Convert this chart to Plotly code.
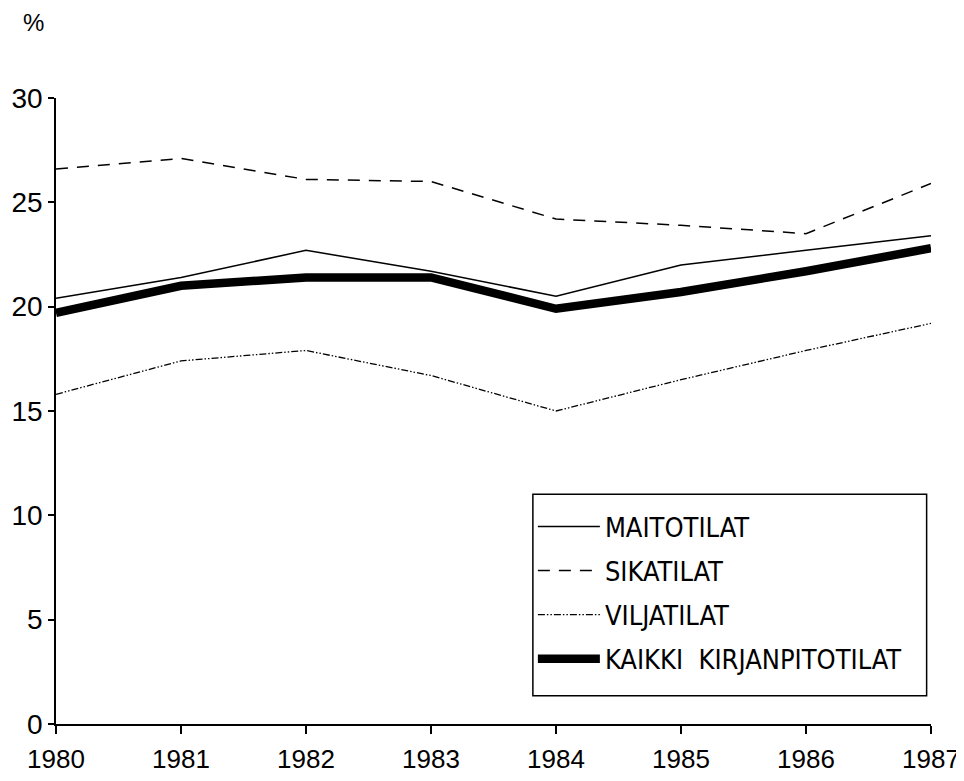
import plotly.graph_objects as go

years = [1980, 1981, 1982, 1983, 1984, 1985, 1986, 1987]
maitotilat = [20.4, 21.4, 22.7, 21.7, 20.5, 22.0, 22.7, 23.4]
sikatilat = [26.6, 27.1, 26.1, 26.0, 24.2, 23.9, 23.5, 25.9]
viljatilat = [15.8, 17.4, 17.9, 16.7, 15.0, 16.5, 17.9, 19.2]
kaikki = [19.7, 21.0, 21.4, 21.4, 19.9, 20.7, 21.7, 22.8]
names = ["MAITOTILAT", "SIKATILAT", "VILJATILAT", "KAIKKI  KIRJANPITOTILAT"]
y_ticks = [0, 5, 10, 15, 20, 25, 30]

FONT = "Liberation Sans, Arial, sans-serif"
LFONT = "DejaVu Sans Condensed, Liberation Sans Narrow, Arial Narrow, sans-serif"

fig = go.Figure()
styles = [
    dict(width=1.5, dash="solid"),
    dict(width=1.5, dash="12px,9px"),
    dict(width=1.3, dash="7px,2px,1.5px,2px,1.5px,2px"),
    dict(width=8.5, dash="solid"),
]
for i, (nm, vals) in enumerate(zip(names, [maitotilat, sikatilat, viljatilat, kaikki])):
    fig.add_trace(go.Scatter(
        x=years, y=vals, mode="lines", name=nm,
        line=dict(color="black", **styles[i]),
        legendgroup=f"g{i}",
    ))

fig.update_layout(
    width=956, height=765,
    margin=dict(l=48, r=33, t=90, b=49, autoexpand=False),
    paper_bgcolor="white", plot_bgcolor="white",
    showlegend=True,
    legend=dict(
        x=0.545, y=0.354, xanchor="left", yanchor="top",
        borderwidth=0, bgcolor="rgba(0,0,0,0)",
        font=dict(family=LFONT, size=27, color="black"),
        traceorder="grouped", tracegroupgap=6,
        itemwidth=62,
    ),
    shapes=[dict(
        type="rect", xref="paper", yref="paper",
        x0=0.545, x1=0.995, y0=0.045, y1=0.367,
        line=dict(color="black", width=1.5), fillcolor="white", layer="above",
    )],
    xaxis=dict(
        range=[1980, 1987], tickvals=years, ticktext=[str(y) for y in years],
        showgrid=False, zeroline=False, showline=True, linecolor="black", linewidth=1.5,
        ticks="outside", ticklen=8, tickcolor="black", tickwidth=1.5,
        tickfont=dict(family=FONT, size=26, color="black"),
        ticklabelstandoff=3, automargin=False,
    ),
    yaxis=dict(
        range=[0, 30], tickvals=y_ticks,
        showgrid=False, zeroline=False, showline=True, linecolor="black", linewidth=1.5,
        ticks="outside", ticklen=6, tickcolor="black", tickwidth=1.5,
        tickfont=dict(family=FONT, size=28, color="black"),
        automargin=False,
    ),
    annotations=[dict(
        text="%", xref="paper", yref="paper", x=-0.026, y=1.121,
        xanchor="center", yanchor="middle", showarrow=False,
        font=dict(family=FONT, size=24, color="black"),
    )],
)

fig.write_html("out.html")
